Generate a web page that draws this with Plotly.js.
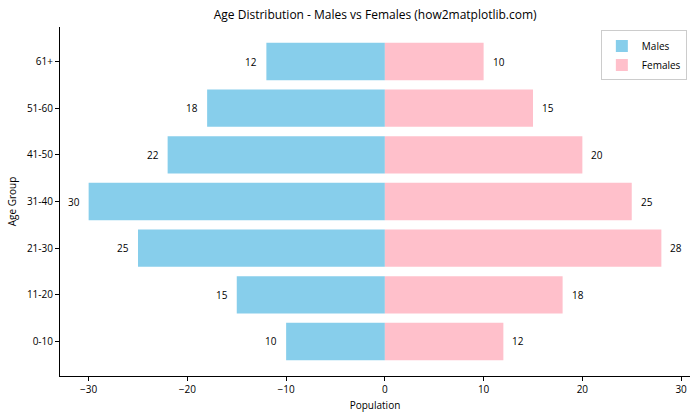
<!DOCTYPE html>
<html>
<head>
<meta charset="utf-8">
<script src="https://cdn.plot.ly/plotly-3.0.1.min.js"></script>
<style>
  body { margin: 0; }
  #grafico { width: 700px; height: 420px; }
</style>
</head>
<body>
<div id="grafico"></div>
<script>
const grupos = ['0-10', '11-20', '21-30', '31-40', '41-50', '51-60', '61+'];
const hombres = [10, 15, 25, 30, 22, 18, 12];
const mujeres = [12, 18, 28, 25, 20, 15, 10];

const fuente = 'Open Sans, DejaVu Sans, sans-serif';

const trazas = [
    {
        type: 'bar',
        orientation: 'h',
        y: grupos,
        x: hombres.map(v => -v),
        name: 'Males',
        marker: { color: '#87CEEB' },
        hoverinfo: 'none'
    },
    {
        type: 'bar',
        orientation: 'h',
        y: grupos,
        x: mujeres,
        name: 'Females',
        marker: { color: '#FFC0CB' },
        hoverinfo: 'none'
    }
];

// etiquetas con separación como en el original
const etiquetas = [];
grupos.forEach((g, i) => {
    etiquetas.push({
        x: -hombres[i], y: g, text: String(hombres[i]),
        xanchor: 'right', xshift: -7, showarrow: false,
        font: { size: 10, color: '#000' }
    });
    etiquetas.push({
        x: mujeres[i], y: g, text: String(mujeres[i]),
        xanchor: 'left', xshift: 7, showarrow: false,
        font: { size: 10, color: '#000' }
    });
});

const layout = {
    width: 700,
    height: 420,
    margin: { l: 60, r: 10, t: 27, b: 44 },
    barmode: 'overlay',
    bargap: 0.2,
    paper_bgcolor: '#fff',
    plot_bgcolor: '#fff',
    font: { family: fuente, size: 10, color: '#000' },
    title: {
        text: 'Age Distribution - Males vs Females (how2matplotlib.com)',
        font: { size: 12 },
        x: 0.536, xanchor: 'center', y: 0.975, yanchor: 'top'
    },
    xaxis: {
        range: [-32.9, 30.9],
        tickvals: [-30, -20, -10, 0, 10, 20, 30],
        ticks: 'outside', ticklen: 4, tickcolor: '#000',
        showgrid: false, zeroline: false,
        showline: true, linecolor: '#000', linewidth: 1,
        title: { text: 'Population', font: { size: 10 }, standoff: 6 }
    },
    yaxis: {
        range: [-0.74, 6.74],
        ticks: 'outside', ticklen: 4, tickcolor: '#000',
        showgrid: false, zeroline: false,
        showline: true, linecolor: '#000', linewidth: 1,
        title: { text: 'Age Group', font: { size: 10 }, standoff: 8 }
    },
    annotations: etiquetas,
    legend: {
        x: 0.995, xanchor: 'right', y: 0.99, yanchor: 'top',
        bgcolor: '#fff', bordercolor: '#ccc', borderwidth: 1,
        font: { size: 10 }, itemwidth: 30
    },
    showlegend: true
};

Plotly.newPlot('grafico', trazas, layout, { displayModeBar: false });
</script>
</body>
</html>
